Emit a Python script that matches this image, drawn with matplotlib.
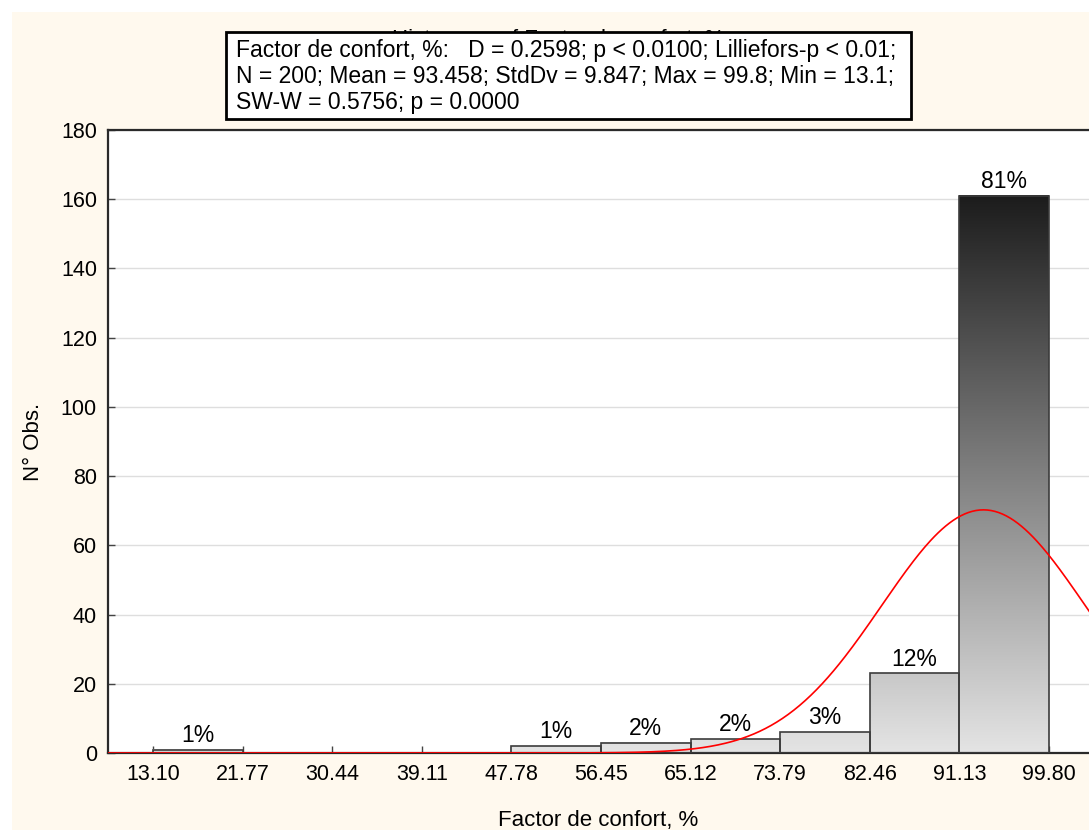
import numpy as np
import matplotlib
matplotlib.use("Agg")
import matplotlib.pyplot as plt
from matplotlib.colors import LinearSegmentedColormap
from matplotlib.patches import Rectangle

# histogram data
bin_edges = [13.10, 21.77, 30.44, 39.11, 47.78, 56.45, 65.12, 73.79, 82.46, 91.13, 99.80]
counts = [1, 0, 0, 0, 2, 3, 4, 6, 23, 161]
pct_labels = ["1%", "", "", "", "1%", "2%", "2%", "3%", "12%", "81%"]
tick_labels = ["13.10", "21.77", "30.44", "39.11", "47.78", "56.45",
               "65.12", "73.79", "82.46", "91.13", "99.80"]

# summary statistics shown in the box (also define the expected normal curve)
n_obs = 200
mean = 93.458
std = 9.847
stats_lines = [
    "Factor de confort, %:   D = 0.2598; p < 0.0100; Lilliefors-p < 0.01;",
    "N = 200; Mean = 93.458; StdDv = 9.847; Max = 99.8; Min = 13.1;",
    "SW-W = 0.5756; p = 0.0000",
]
title = "Histogram of Factor de confort, %"

W, H = 1089, 830
CREAM = "#fff9ee"
FONT = "Liberation Sans"

plt.rcParams["font.family"] = [FONT, "DejaVu Sans"]

fig = plt.figure(figsize=(W / 100, H / 100), dpi=100, facecolor="white")
fig.patches.append(Rectangle((12 / W, 0), 1, 1 - 12 / H, transform=fig.transFigure,
                             facecolor=CREAM, edgecolor="none", zorder=-10))

ax = fig.add_axes([108 / W, 1 - 753 / H, 1 - 108 / W, (753 - 130) / H])
ax.set_facecolor("white")

edges = np.array(bin_edges)
width = edges[1] - edges[0]

# gradient fill: colour depends on the absolute height
cmap = LinearSegmentedColormap.from_list("grey", ["#e4e4e4", "#1c1c1c"])
for left, h in zip(edges[:-1], counts):
    if h == 0:
        continue
    grad = np.linspace(0, h, 256).reshape(-1, 1)
    ax.imshow(grad, extent=[left, left + width, 0, h], origin="lower",
              cmap=cmap, vmin=0, vmax=161, aspect="auto", zorder=2,
              interpolation="bilinear")

ax.bar(edges[:-1], counts, width=width, align="edge", facecolor="none",
       edgecolor="#3c3c3c", linewidth=1.2, zorder=3)

for left, h, lab in zip(edges[:-1], counts, pct_labels):
    if lab:
        ax.text(left + width / 2, h + 0.8, lab, ha="center", va="bottom",
                fontsize=16.5, color="black", zorder=5)

# expected normal curve
xs = np.linspace(0, 110, 600)
ys = n_obs * width * np.exp(-0.5 * ((xs - mean) / std) ** 2) / (std * np.sqrt(2 * np.pi))
ax.plot(xs, ys, color="red", linewidth=1.2, zorder=4)

ax.set_xlim(8.75, 103.67)
ax.set_ylim(0, 180)
ax.set_xticks(edges)
ax.set_xticklabels(tick_labels)
ax.set_yticks(np.arange(0, 181, 20))
ax.tick_params(axis="both", direction="in", length=5, width=1, color="#444444",
               labelsize=15.5, pad=8)
ax.yaxis.grid(True, color="#dedede", linewidth=1, zorder=0)
ax.set_axisbelow(True)

for side in ("left", "bottom", "top"):
    ax.spines[side].set_color("#2a2a2a")
    ax.spines[side].set_linewidth(1.6)
ax.spines["right"].set_visible(False)

ax.set_ylabel("N° Obs.", fontsize=16, labelpad=12)
ax.set_xlabel("Factor de confort, %", fontsize=16, labelpad=18)

# title partly hidden behind the statistics box
t_title = fig.text(558 / W, 1 - 45 / H, title, ha="center", va="baseline",
                   fontsize=16, zorder=1)
t_title.set_clip_path(Rectangle((0, 1 - 32 / H), 1, 32 / H, transform=fig.transFigure))
fig.patches.append(Rectangle((226 / W, 1 - 119 / H), (911 - 226) / W, (119 - 32) / H,
                             transform=fig.transFigure, facecolor="white",
                             edgecolor="black", linewidth=2, zorder=5))
for i, line in enumerate(stats_lines):
    t = fig.text(236 / W, 1 - (57 + 26 * i) / H, line, ha="left", va="baseline",
                 fontsize=16.5)
    t.set_zorder(6)

fig.savefig("out.png", dpi=100, facecolor="white")
